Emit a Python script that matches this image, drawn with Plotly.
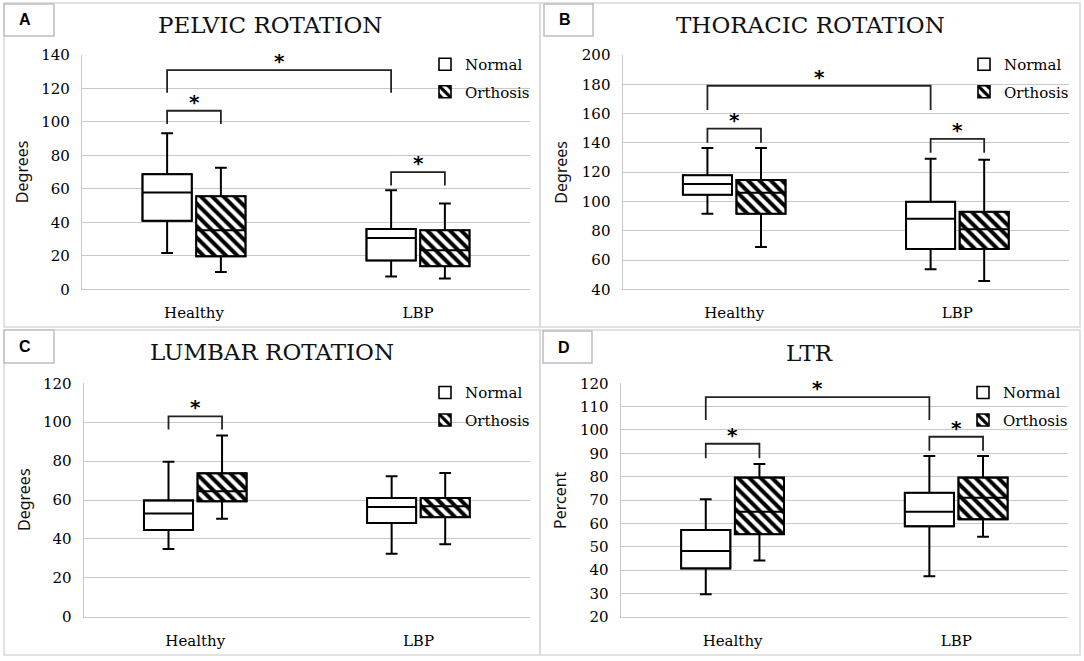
import plotly.graph_objects as go

W, H = 1084, 661

categories = ["Healthy", "LBP"]
conditions = ["Normal", "Orthosis"]

# five-number summaries per category: [min, Q1, median, Q3, max]
pelvic_normal = [[21.7, 40.9, 57.9, 68.8, 93.3], [7.6, 17.2, 30.7, 36.1, 59.2]]
pelvic_orthosis = [[10.4, 19.7, 35.3, 55.6, 72.6], [6.4, 13.8, 23.3, 35.3, 51.3]]

thoracic_normal = [[91.6, 104.6, 111.9, 117.9, 136.5], [53.7, 67.5, 88.2, 99.8, 129.2]]
thoracic_orthosis = [[68.9, 91.6, 106.0, 114.7, 136.5], [45.7, 67.5, 81.0, 93.0, 128.5]]

lumbar_normal = [[34.8, 44.6, 53.1, 59.8, 79.7], [32.4, 48.2, 56.4, 61.0, 72.2]]
lumbar_orthosis = [[50.4, 59.3, 64.5, 73.7, 93.1], [37.2, 51.1, 56.8, 61.0, 73.9]]

ltr_normal = [[29.6, 40.7, 48.1, 57.1, 70.3], [37.3, 58.7, 65.0, 73.1, 88.9]]
ltr_orthosis = [[44.1, 55.3, 65.0, 79.6, 85.4], [54.3, 61.7, 71.0, 79.6, 88.9]]

# significance brackets: (from group, to group, bracket top, leg end)
pelvic_sig = [(("Healthy", "Normal"), ("LBP", "Normal"), 131.0, 117.5),
              (("Healthy", "Normal"), ("Healthy", "Orthosis"), 106.7, 98.7),
              (("LBP", "Normal"), ("LBP", "Orthosis"), 70.0, 62.0)]
thoracic_sig = [(("Healthy", "Normal"), ("LBP", "Normal"), 179.0, 162.5),
                (("Healthy", "Normal"), ("Healthy", "Orthosis"), 149.7, 140.0),
                (("LBP", "Normal"), ("LBP", "Orthosis"), 142.7, 133.3)]
lumbar_sig = [(("Healthy", "Normal"), ("Healthy", "Orthosis"), 103.0, 96.3)]
ltr_sig = [(("Healthy", "Normal"), ("LBP", "Normal"), 114.1, 104.3),
           (("Healthy", "Normal"), ("Healthy", "Orthosis"), 94.1, 87.9),
           (("LBP", "Normal"), ("LBP", "Orthosis"), 97.1, 91.1)]

panel_titles = ["PELVIC ROTATION", "THORACIC ROTATION", "LUMBAR ROTATION", "LTR"]
panel_letters = ["A", "B", "C", "D"]
y_titles = ["Degrees", "Degrees", "Degrees", "Percent"]
y_ranges = [(0, 140, 20), (40, 200, 20), (0, 120, 20), (20, 120, 10)]

series = [(pelvic_normal, pelvic_orthosis), (thoracic_normal, thoracic_orthosis),
          (lumbar_normal, lumbar_orthosis), (ltr_normal, ltr_orthosis)]
sigs = [pelvic_sig, thoracic_sig, lumbar_sig, ltr_sig]

# ---- layout geometry (pixels) ----
plot_px = [(82, 530, 55, 289.3), (622.6, 1069, 55, 289.3),
           (83.7, 530, 383.3, 616.7), (620.8, 1068, 383.3, 616.7)]
panel_px = [(4, 3, 540, 327), (540, 3, 1080, 327), (4, 330, 540, 655), (540, 330, 1080, 655)]
label_px = [(4, 4, 54, 36), (544, 4, 593, 36), (4, 330, 54, 363), (543, 331, 592, 363)]
title_px = [(270, 25), (810, 25), (272, 352), (809, 353)]
ytitle_x = [22, 561.5, 24, 560]

offsets = {"Normal": -0.12, "Orthosis": 0.12}
BOXW = 0.22
SERIF = "DejaVu Serif"
GRID = "#c8c8c8"

fig = go.Figure()
layout = dict(width=W, height=H, margin=dict(l=0, r=0, t=0, b=0, autoexpand=False),
              paper_bgcolor="white", plot_bgcolor="white",
              barmode="overlay", boxmode="overlay", showlegend=True)
shapes, annotations = [], []


def px_x(v):
    return v / W


def px_y(v):
    return 1 - v / H


for i in range(4):
    sfx = "" if i == 0 else str(i + 1)
    xa, ya = "x" + sfx, "y" + sfx
    leg = "legend" + sfx
    x0, x1, y0, y1 = plot_px[i]
    lo, hi, dt = y_ranges[i]

    for cond, stats in zip(conditions, series[i]):
        xs = [ci + offsets[cond] for ci in range(len(categories))]
        mins = [s[0] for s in stats]
        q1 = [s[1] for s in stats]
        med = [s[2] for s in stats]
        q3 = [s[3] for s in stats]
        maxs = [s[4] for s in stats]
        pattern = dict(shape="\\", fgcolor="#000000", fgopacity=1, bgcolor="#ffffff",
                       size=8, solidity=0.5, fillmode="replace") \
            if cond == "Orthosis" else dict(shape="")
        fig.add_trace(go.Bar(
            x=xs, base=q1, y=[b - a for a, b in zip(q1, q3)], width=BOXW, opacity=1,
            marker=dict(color="#ffffff", opacity=1, line=dict(color="black", width=1.6),
                        pattern=pattern),
            name=cond, legend=leg, legendgroup=cond + sfx, xaxis=xa, yaxis=ya,
            hoverinfo="skip"))
        fig.add_trace(go.Box(
            x=xs, q1=q1, median=med, q3=q3, lowerfence=mins, upperfence=maxs,
            width=BOXW, whiskerwidth=0.24, fillcolor="rgba(0,0,0,0)",
            line=dict(color="black", width=2), showlegend=False,
            xaxis=xa, yaxis=ya, hoverinfo="skip"))

    for (ga, gb, top, leg_end) in sigs[i]:
        xl = categories.index(ga[0]) + offsets[ga[1]]
        xr = categories.index(gb[0]) + offsets[gb[1]]
        fig.add_trace(go.Scatter(
            x=[xl, xl, xr, xr], y=[leg_end, top, top, leg_end], mode="lines",
            line=dict(color="#222222", width=1.8), showlegend=False,
            xaxis=xa, yaxis=ya, hoverinfo="skip"))
        annotations.append(dict(
            x=(xl + xr) / 2, y=top, xref=xa, yref=ya, text="<b>*</b>",
            showarrow=False, yanchor="middle", yshift=9,
            font=dict(family="DejaVu Sans", size=20, color="black")))

    layout["xaxis" + sfx] = dict(
        domain=[px_x(x0), px_x(x1)], anchor=ya, range=[-0.5, 1.5], automargin=False,
        tickvals=list(range(len(categories))), ticktext=categories,
        showgrid=False, zeroline=False, showline=True, linecolor=GRID, linewidth=1.3,
        ticks="", ticklabelstandoff=10,
        tickfont=dict(family=SERIF, size=15, color="#000000"))
    layout["yaxis" + sfx] = dict(
        domain=[px_y(y1), px_y(y0)], anchor=xa, range=[lo, hi], dtick=dt, tick0=lo,
        automargin=False,
        showgrid=True, gridcolor=GRID, gridwidth=1.3, zeroline=False,
        showline=True, linecolor=GRID, linewidth=1.3, ticks="", ticklabelstandoff=8,
        tickfont=dict(family=SERIF, size=15, color="#000000"))
    layout[leg] = dict(
        x=px_x(x1 - 105), y=px_y(y0 - 7), xanchor="left", yanchor="top",
        font=dict(family=SERIF, size=15, color="black"), bgcolor="rgba(0,0,0,0)",
        traceorder="grouped", tracegroupgap=5, borderwidth=0)

    # panel border
    px0, py0, px1, py1 = panel_px[i]
    shapes.append(dict(type="rect", xref="paper", yref="paper",
                       x0=px_x(px0), x1=px_x(px1), y0=px_y(py1), y1=px_y(py0),
                       line=dict(color="#d9d9d9", width=1.5), layer="below"))
    # letter box
    lx0, ly0, lx1, ly1 = label_px[i]
    shapes.append(dict(type="rect", xref="paper", yref="paper",
                       x0=px_x(lx0), x1=px_x(lx1), y0=px_y(ly1), y1=px_y(ly0),
                       line=dict(color="#bdbdbd", width=1.5), fillcolor="white"))
    annotations.append(dict(x=px_x((lx0 + lx1) / 2 - 4), y=px_y((ly0 + ly1) / 2),
                            xref="paper", yref="paper", text="<b>%s</b>" % panel_letters[i],
                            showarrow=False, xanchor="center", yanchor="middle",
                            font=dict(family="Liberation Sans", size=16, color="black")))
    # title
    tx, ty = title_px[i]
    annotations.append(dict(x=px_x(tx), y=px_y(ty), xref="paper", yref="paper",
                            text=panel_titles[i], showarrow=False,
                            xanchor="center", yanchor="middle",
                            font=dict(family=SERIF, size=23, color="#111111")))
    # y axis title
    annotations.append(dict(x=px_x(ytitle_x[i]), y=px_y((y0 + y1) / 2),
                            xref="paper", yref="paper", text=y_titles[i],
                            showarrow=False, textangle=-90,
                            xanchor="center", yanchor="middle",
                            font=dict(family="Noto Sans", size=16, color="#111111")))

layout["shapes"] = shapes
layout["annotations"] = annotations
fig.update_layout(**layout)
fig.write_html("out.html", config={"displayModeBar": False},
               post_script="document.body.style.margin='0px';")
